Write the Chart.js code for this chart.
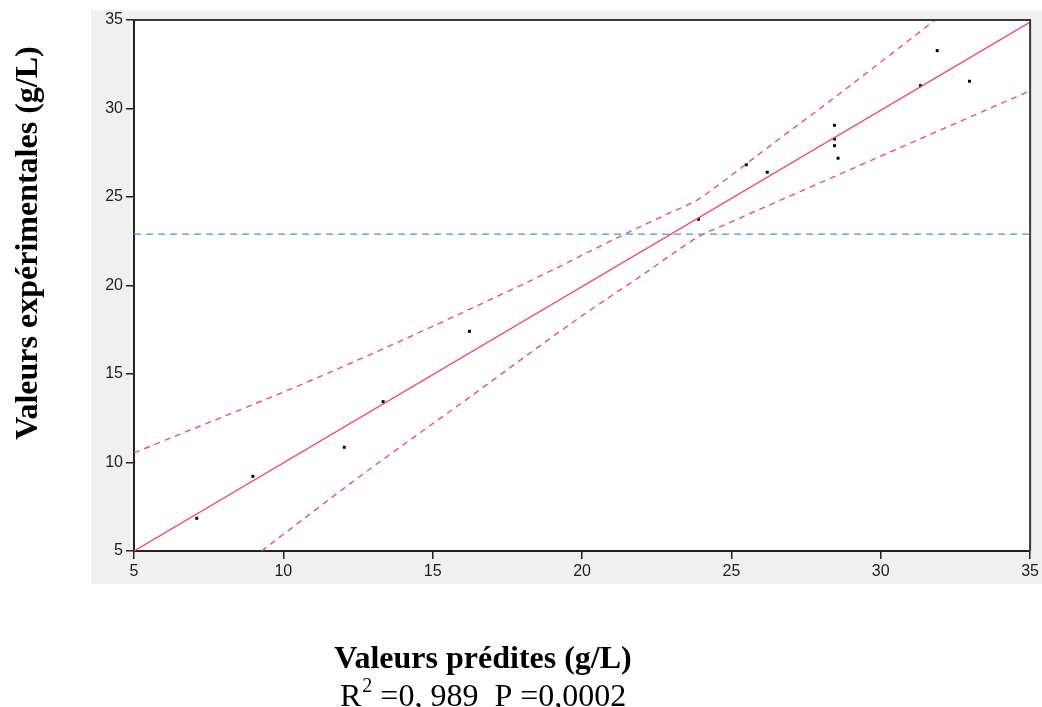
<!DOCTYPE html>
<html>
<head>
<meta charset="utf-8">
<script src="https://cdn.jsdelivr.net/npm/chart.js@4"></script>
<style>
  body { margin: 0; background: #fff; }
  #wrap { width: 1042px; height: 707px; }
</style>
</head>
<body>
<div id="wrap"><canvas id="graphique" width="1042" height="707"></canvas></div>
<script>
// valeurs
var valeursPredites = [7.1, 8.98, 12.04, 13.34, 16.23, 23.9, 25.5, 26.2, 28.45, 28.45, 28.45, 28.57, 31.33, 31.89, 32.97];
var valeursExp = [6.85, 9.22, 10.86, 13.44, 17.41, 23.74, 26.82, 26.4, 29.05, 28.28, 27.9, 27.19, 31.29, 33.27, 31.54];

var droiteX = [5, 35];
var droiteY = [5, 34.88];

var bandeHautX = [5, 11.48, 18.32, 21.55, 23.0, 23.77, 24.5, 26.11, 28.56, 31.82];
var bandeHautY = [10.54, 15.04, 20.31, 23.0, 24.15, 24.75, 25.6, 27.66, 30.76, 35];
var bandeBasX = [9.27, 12.43, 16, 19.88, 22, 23.3, 24, 24.8, 28.56, 34.9];
var bandeBasY = [5, 9.05, 13.4, 18.15, 20.57, 22.1, 22.85, 23.45, 26.24, 30.93];

var moyenneY = 22.9;
var graduations = [5, 10, 15, 20, 25, 30, 35];

var titreX = 'Valeurs prédites (g/L)';
var titreY = 'Valeurs expérimentales (g/L)';

function enPoints(xs, ys) {
    return xs.map(function(x, i){ return {x: x, y: ys[i]}; });
}

var rouge = 'rgb(240, 78, 108)';

var fondPlugin = {
    id: 'fond',
    beforeDraw: function(chart) {
        var ctx = chart.ctx, a = chart.chartArea;
        ctx.save();
        ctx.fillStyle = '#fff';
        ctx.fillRect(0, 0, chart.width, chart.height);
        ctx.fillStyle = '#f0f0f0';
        ctx.fillRect(91, 10, 951, 574);
        ctx.fillStyle = '#fff';
        ctx.fillRect(a.left, a.top, a.right - a.left, a.bottom - a.top);
        ctx.restore();
    },
    afterDraw: function(chart) {
        var ctx = chart.ctx, a = chart.chartArea;
        ctx.save();
        ctx.strokeStyle = '#3a3a3a';
        ctx.lineWidth = 2;
        ctx.beginPath();
        ctx.moveTo(a.left, a.top);
        ctx.lineTo(a.right, a.top);
        ctx.lineTo(a.right, a.bottom);
        ctx.stroke();

        ctx.fillStyle = '#000';
        ctx.textAlign = 'center';
        ctx.textBaseline = 'alphabetic';
        ctx.font = 'bold 32px "Liberation Serif"';
        ctx.fillText(titreX, 483, 668);

        // ligne R2 et P
        var x0 = 340, base = 706;
        ctx.textAlign = 'left';
        ctx.font = '32px "Liberation Serif"';
        ctx.fillText('R', x0, base);
        var wR = ctx.measureText('R').width;
        ctx.font = '20px "Liberation Serif"';
        ctx.fillText('2', x0 + wR + 1, base - 14);
        var w2 = ctx.measureText('2').width;
        ctx.font = '32px "Liberation Serif"';
        ctx.fillText(' =0, 989  P =0,0002', x0 + wR + w2 + 1, base);

        ctx.translate(37, 243);
        ctx.rotate(-Math.PI / 2);
        ctx.textAlign = 'center';
        ctx.font = 'bold 32px "Liberation Serif"';
        ctx.fillText(titreY, 0, 0);
        ctx.restore();
    }
};

var axe = {
    type: 'linear',
    min: 5,
    max: 35,
    afterBuildTicks: function(s){ s.ticks = graduations.map(function(v){ return {value: v}; }); },
    grid: { drawOnChartArea: false, drawTicks: true, tickLength: 8, color: '#222', lineWidth: 1.5 },
    border: { color: '#222', width: 2 },
    ticks: { color: '#1e1e1e', font: { family: 'Liberation Sans', size: 16 }, padding: 3 }
};

var axeX = Object.assign({}, axe, { afterFit: function(s){ s.height = 156; } });
var axeY = Object.assign({}, axe, { afterFit: function(s){ s.width = 134; } });

var ctx = document.getElementById('graphique').getContext('2d');
var chart = new Chart(ctx, {
    type: 'scatter',
    data: {
        datasets: [{
            label: 'moyenne',
            data: enPoints([5, 35], [moyenneY, moyenneY]),
            showLine: true,
            borderColor: 'rgb(80, 140, 245)',
            borderWidth: 1.4,
            borderDash: [7, 5],
            pointRadius: 0
        }, {
            label: 'IC haut',
            data: enPoints(bandeHautX, bandeHautY),
            showLine: true,
            borderColor: rouge,
            borderWidth: 1.4,
            borderDash: [6, 5],
            cubicInterpolationMode: 'monotone',
            pointRadius: 0
        }, {
            label: 'IC bas',
            data: enPoints(bandeBasX, bandeBasY),
            showLine: true,
            borderColor: rouge,
            borderWidth: 1.4,
            borderDash: [6, 5],
            cubicInterpolationMode: 'monotone',
            pointRadius: 0
        }, {
            label: 'ajustement',
            data: enPoints(droiteX, droiteY),
            showLine: true,
            borderColor: rouge,
            borderWidth: 1.4,
            pointRadius: 0
        }, {
            label: 'observations',
            data: enPoints(valeursPredites, valeursExp),
            pointStyle: 'rect',
            pointRadius: 2.1,
            backgroundColor: '#000',
            borderColor: '#000',
            borderWidth: 0
        }]
    },
    options: {
        responsive: false,
        animation: false,
        layout: { padding: { left: 0, right: 9, top: 20, bottom: 0 } },
        plugins: { legend: { display: false }, tooltip: { enabled: false } },
        scales: { x: axeX, y: axeY }
    },
    plugins: [fondPlugin]
});
</script>
</body>
</html>
